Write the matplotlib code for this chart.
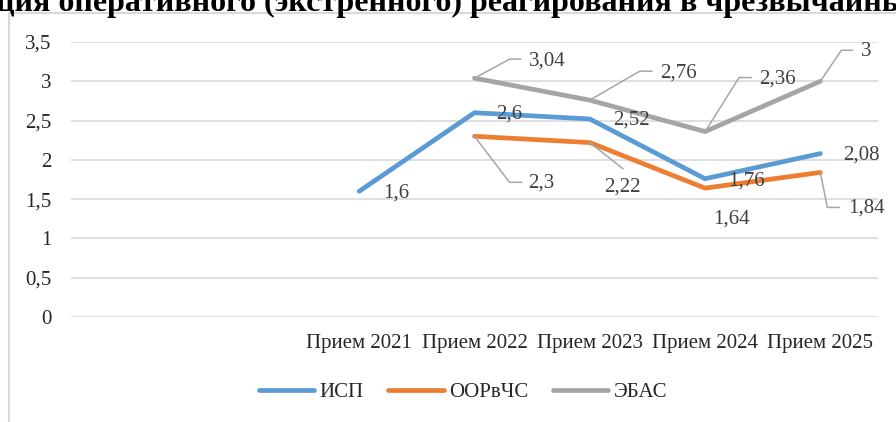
import matplotlib
matplotlib.use('Agg')
import matplotlib.pyplot as plt
import matplotlib.transforms as mtransforms
from matplotlib.lines import Line2D
import numpy as np

categories = ['', '', 'Прием 2021', 'Прием 2022', 'Прием 2023', 'Прием 2024', 'Прием 2025']
isp = [np.nan, np.nan, 1.6, 2.6, 2.52, 1.76, 2.08]
oor = [np.nan, np.nan, np.nan, 2.3, 2.22, 1.64, 1.84]
ebas = [np.nan, np.nan, np.nan, 3.04, 2.76, 2.36, 3.0]
names = ['ИСП', 'ООРвЧС', 'ЭБАС']
colors = ['#5b9bd5', '#ed7d31', '#a5a5a5']

# label placement per point: text offset (px, right/down) and leader polyline (px) or None
label_pos = {
    'ИСП': [None, None, ((37, 2), None), ((35, 1), None), ((42, 1), None),
            ((41, 2), None), ((41, 1), None)],
    'ООРвЧС': [None, None, None,
               ((67, 47), [(0, 0), (35, 46), (47, 46)]),
               ((33, 44), [(0, 0), (33, 26)]),
               ((26, 31), None),
               ((46, 36), [(0, 0), (7, 35), (19, 35)])],
    'ЭБАС': [None, None, None,
             ((73, -17), [(0, 0), (35, -19), (46, -19)]),
             ((89, -27), [(0, 0), (50, -29), (62, -29)]),
             ((72, -53), [(0, 0), (34, -54), (46, -54)]),
             ((46, -30), [(0, 0), (21, -31), (32, -31)])],
}

plt.rcParams['font.family'] = ['Liberation Serif', 'DejaVu Serif']

fig = plt.figure(figsize=(8.96, 4.22), dpi=100)
ax = fig.add_axes([71 / 896, 1 - 317 / 422, 807 / 896, 275 / 422])

x = np.arange(len(categories))
for name, vals, c in zip(names, [isp, oor, ebas], colors):
    ax.plot(x, vals, color=c, lw=3.4, solid_capstyle='round', solid_joinstyle='round',
            label=name, zorder=3)

ax.set_xlim(-0.5, len(categories) - 0.5)
ax.set_ylim(0, 3.5)
ax.set_yticks(np.arange(0, 3.51, 0.5))
ax.set_yticklabels([('%g' % v).replace('.', ',') for v in np.arange(0, 3.51, 0.5)])
ax.set_xticks(x)
ax.set_xticklabels(categories)
ax.tick_params(axis='both', length=0, labelsize=15, colors='#262626')
ax.tick_params(axis='y', pad=14)
ax.tick_params(axis='x', pad=12)
ax.grid(axis='y', color='#d9d9d9', lw=1.2)
ax.set_axisbelow(True)
for s in ax.spines.values():
    s.set_visible(False)

# data labels with leader lines
for name, vals in zip(names, [isp, oor, ebas]):
    for i, v in enumerate(vals):
        pos = label_pos[name][i]
        if pos is None or np.isnan(v):
            continue
        (tx, ty), leader = pos
        ax.annotate(('%g' % v).replace('.', ','), (x[i], v), xytext=(tx, -ty),
                    textcoords='offset pixels', ha='center', va='center',
                    fontsize=15, color='#404040', zorder=5)
        if leader:
            tr = mtransforms.ScaledTranslation(x[i], v, ax.transData)
            lx = [p[0] for p in leader]
            ly = [-p[1] for p in leader]
            ax.add_line(Line2D(lx, ly, transform=tr, color='#a6a6a6', lw=1.1,
                               clip_on=False, zorder=4))

# outer frame (left and top edges visible)
fig.add_artist(Line2D([9 / 896, 9 / 896, 1.0], [0, 1 - 13 / 422, 1 - 13 / 422],
                      transform=fig.transFigure, color='#d9d9d9', lw=1.5))

# title, cut off at the top of the image
fig.text(-4 / 896, 1 - 10.5 / 422,
         'ция оперативного (экстренного) реагирования в чрезвычайных ситуациях',
         ha='left', va='baseline', fontsize=23, fontweight='bold', color='black')

fig.legend(loc='center', bbox_to_anchor=(463 / 896, 1 - 392 / 422), ncol=3,
           frameon=False, fontsize=15, handlelength=2.65, handletextpad=0.25,
           columnspacing=1.2, labelcolor='#262626')

plt.savefig('out.png', dpi=100)
